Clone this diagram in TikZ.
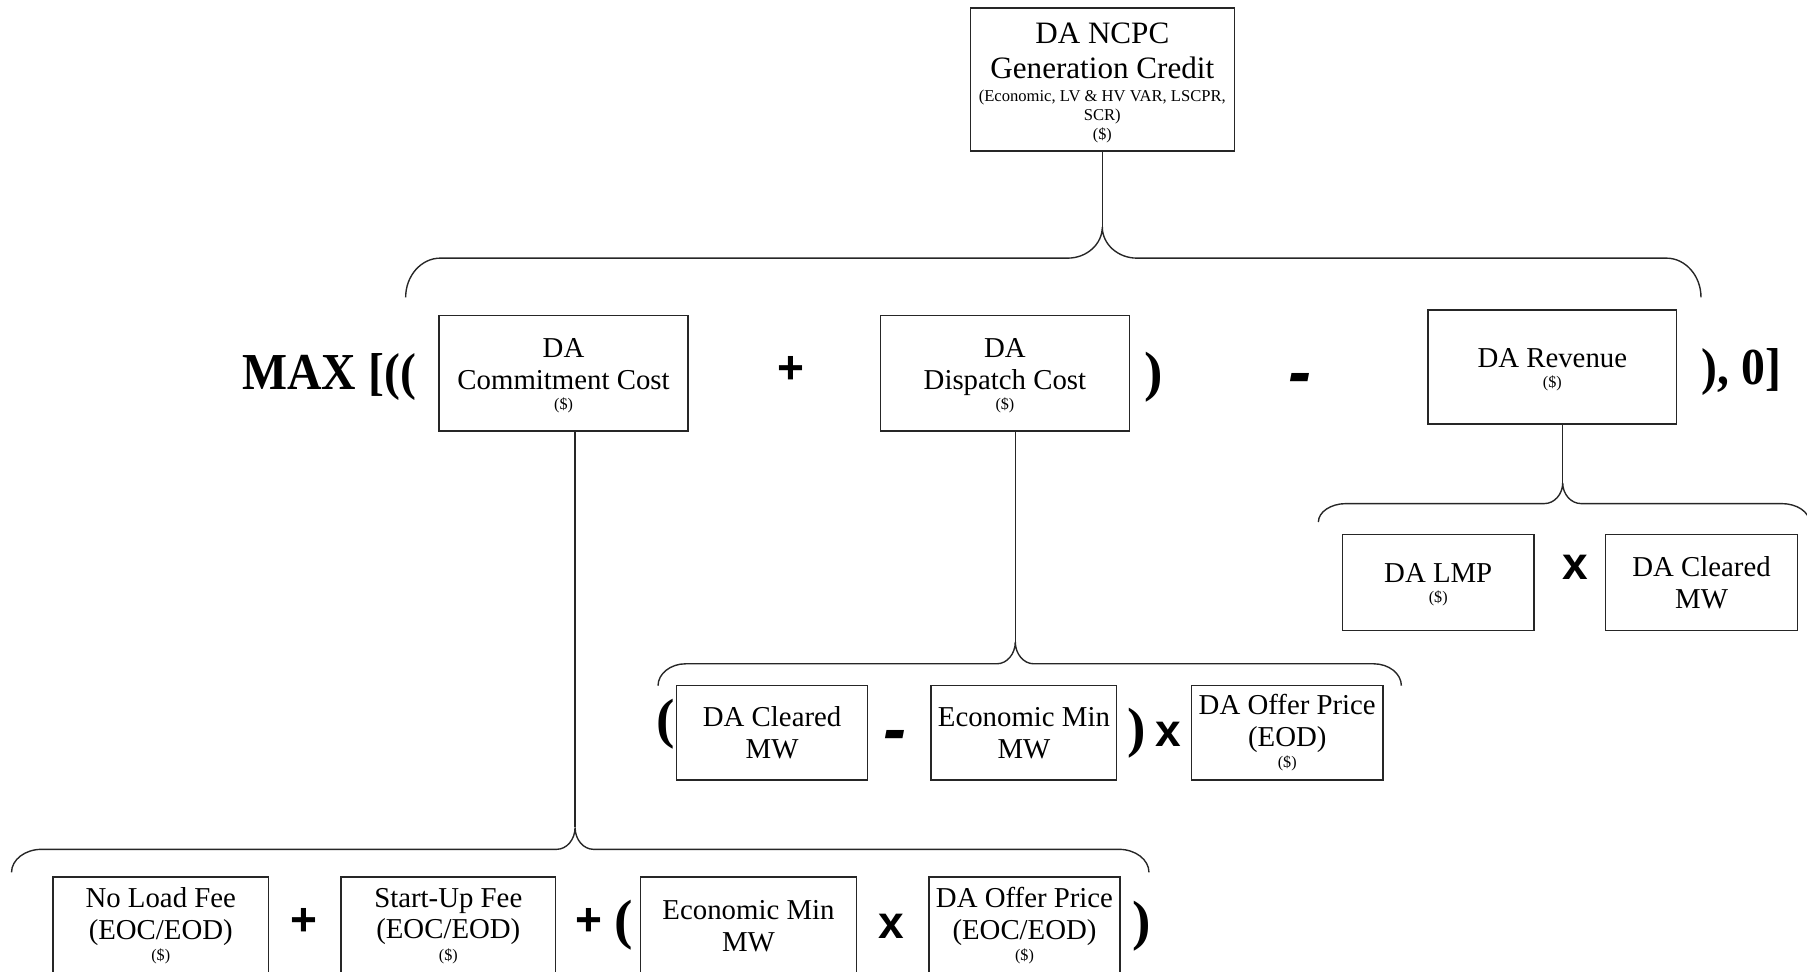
\documentclass[tikz,border=0pt]{standalone}
\usepackage{fontspec}
\setmainfont{Liberation Serif}
\newfontfamily\opf{Liberation Sans}
\newcommand{\dol}{{\fontsize{7}{8}\selectfont(\$)}}
\newcommand{\subn}{\fontsize{7.2}{8}\selectfont}
\newcommand{\cbrace}[8]{%
 \draw[conn] (#1,#6) .. controls (#1,{#6+0.55*(#5-#6)}) and ({#1+0.45*#7},#5) .. ({#1+#7},#5)
   -- ({#2-#8},#5) .. controls ({#2-0.45*#8},#5) and (#2,{#4+0.55*(#5-#4)}) .. (#2,#4)
   .. controls (#2,{#4+0.55*(#5-#4)}) and ({#2+0.45*#8},#5) .. ({#2+#8},#5)
   -- ({#3-#7},#5) .. controls ({#3-0.45*#7},#5) and (#3,{#6+0.55*(#5-#6)}) .. (#3,#6);}
\tikzset{
 bx/.style={draw=black!85, line width=0.6pt, inner sep=0pt, align=center, font=\fontsize{12.5}{13.75}\selectfont},
 conn/.style={draw=black!85, line width=0.6pt},
 bigop/.style={font=\opf\bfseries\fontsize{20}{20}\selectfont, inner sep=0pt},
 paren/.style={font=\bfseries\fontsize{24}{24}\selectfont, inner sep=0pt},
 dashop/.style={font=\opf\bfseries\itshape\fontsize{30}{30}\selectfont, inner sep=0pt, anchor=base},
 bigtxt/.style={font=\bfseries\fontsize{22.5}{22.5}\selectfont, inner sep=0pt, anchor=base west},
}
\begin{document}
\begin{tikzpicture}[x=0.5pt,y=-0.5pt]
\useasboundingbox (0,0) rectangle (1568,843.4);
\clip (0,0) rectangle (1568,843.4);
% top
\node[bx, minimum width=114.5pt, minimum height=62pt, font=\fontsize{13.5}{15}\selectfont] (top) at (956.5,69)
 {\rule{0pt}{12pt}DA NCPC\\Generation Credit\\[-4.75pt]{\subn (Economic, LV \& HV VAR, LSCPR,}\\[-7pt]{\subn SCR)}\\[-6.5pt]\dol};
% row 2
\node[bigtxt] (max) at (210,338) {\scalebox{0.92}[1]{MAX [((}};
\node[bx, minimum width=108pt, minimum height=50pt] (cc) at (489,324) {\rule{0pt}{10.3pt}DA\\Commitment Cost\\[-5pt]\dol};
\node[bigop] (p1) at (686,321) {+};
\node[bx, minimum width=108pt, minimum height=50pt] (dc) at (872,324) {\rule{0pt}{10.3pt}DA\\Dispatch Cost\\[-5pt]\dol};
\node[paren] (rp1) at (1001,327) {)};
\node[dashop] (m1) at (1128,343) {-};
\node[bx, minimum width=108pt, minimum height=49.5pt] (rev) at (1347,318.5) {\rule{0pt}{10.5pt}DA Revenue\\[-5pt]\dol};
\node[bigtxt] (endt) at (1476,334) {\scalebox{0.92}[1]{), 0]}};
% revenue row
\node[bx, minimum width=83pt, minimum height=41.5pt] (lmp) at (1248,505.5) {\rule{0pt}{10.3pt}DA LMP\\[-5pt]\dol};
\node[bigop] (x1) at (1367,492) {x};
\node[bx, minimum width=83.5pt, minimum height=41.5pt] (dcm) at (1476.5,505.5) {DA Cleared\\MW};
% row 3
\node[paren] (lp3) at (578,628) {(};
\node[bx, minimum width=83pt, minimum height=41pt] (cl3) at (670,636) {DA Cleared\\MW};
\node[dashop] (m3) at (777,653) {-};
\node[bx, minimum width=80.5pt, minimum height=41pt] (em3) at (888.5,636) {Economic Min\\MW};
\node[paren] (rp3) at (986,636) {)};
\node[bigop] (x3) at (1014,637) {x};
\node[bx, minimum width=83pt, minimum height=41pt] (op3) at (1117,636) {DA Offer Price\\(EOD)\\[-4.5pt]\dol};
% row 4
\node[bx, minimum width=93.5pt, minimum height=42.5pt] (nl) at (139.5,803.5) {No Load Fee\\(EOC/EOD)\\[-4.5pt]\dol};
\node[bigop] (p4a) at (264,800) {+};
\node[bx, minimum width=93pt, minimum height=42.5pt] (su) at (389,803.5) {Start-Up Fee\\(EOC/EOD)\\[-4.5pt]\dol};
\node[bigop] (p4b) at (511,800) {+};
\node[paren] (lp4) at (541,803) {(};
\node[bx, minimum width=93.5pt, minimum height=42.5pt] (em4) at (649.5,803.5) {Economic Min\\MW};
\node[bigop] (x4) at (773,804) {x};
\node[bx, minimum width=83pt, minimum height=42.5pt] (op4) at (889,803.5) {DA Offer Price\\(EOC/EOD)\\[-4.5pt]\dol};
\node[paren] (rp4) at (991,804) {)};
% connectors
\coordinate (t1) at (956.5,197);
\coordinate (t2) at (1356,419);
\coordinate (t3) at (881,557);
\coordinate (t4) at (499,718);
\draw[conn] (top.south) -- (t1);
\draw[conn] (t2 |- rev.south) -- (t2);
\draw[conn] (t3 |- dc.south) -- (t3);
\draw[conn] (t4 |- cc.south) -- (t4);
% braces
\cbrace{352}{956.5}{1476}{197}{224}{258}{30}{30}
\cbrace{1144}{1356}{1570}{419}{437}{453}{24}{16}
\cbrace{571}{881}{1216}{557}{576}{595}{24}{16}
\cbrace{10}{499}{997}{718}{737}{757}{26}{16}
\end{tikzpicture}
\end{document}
